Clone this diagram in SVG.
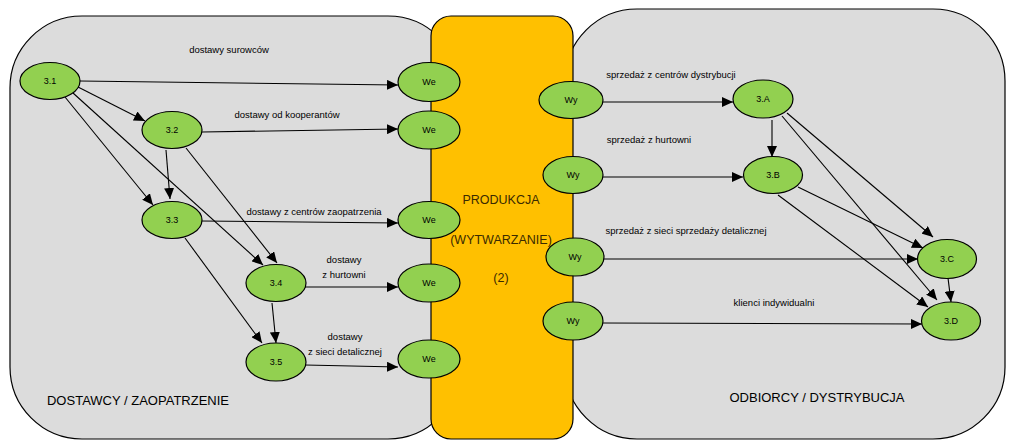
<svg xmlns="http://www.w3.org/2000/svg" width="1009" height="442" viewBox="0 0 1009 442">
<style>
.panel{fill:#dcdcdc;stroke:#000;stroke-width:1.2}
.prod{fill:#ffc000;stroke:#000;stroke-width:1.2}
.node ellipse{fill:#92d050;stroke:#000;stroke-width:1.2}
.node text{font-family:"Liberation Sans",Arial,sans-serif;font-size:9px;fill:#000;text-anchor:middle;dominant-baseline:central}
.lbl{font-family:"Liberation Sans",Arial,sans-serif;font-size:9.5px;fill:#000;text-anchor:middle}
.big{font-family:"Liberation Sans",Arial,sans-serif;font-size:13px;fill:#000;text-anchor:middle}
.prodt{font-family:"Liberation Sans",Arial,sans-serif;font-size:12.5px;fill:#3a2a00;text-anchor:middle}
#connectors line{stroke:#000;stroke-width:1.1;marker-end:url(#ah)}
</style>
<defs>
<marker id="ah" markerUnits="userSpaceOnUse" markerWidth="12" markerHeight="10" refX="11" refY="5" orient="auto">
<path d="M0,0 L11,5 L0,10 Z" fill="#000"/>
</marker>
</defs>
<rect width="1009" height="442" fill="#fff"/>
<g id="panel-left"><rect class="panel" x="10" y="16" width="450" height="423" rx="72" ry="72"/>
<text class="big" x="138" y="405">DOSTAWCY / ZAOPATRZENIE</text></g>
<g id="panel-right"><rect class="panel" x="565" y="9" width="440" height="430" rx="72" ry="72"/>
<text class="big" x="817" y="402">ODBIORCY / DYSTRYBUCJA</text></g>
<g id="panel-prod"><rect class="prod" x="431" y="16" width="142" height="423" rx="20" ry="20"/>
<text class="prodt" x="501" y="204">PRODUKCJA</text>
<text class="prodt" x="501" y="244">(WYTWARZANIE)</text>
<text class="prodt" x="501" y="282">(2)</text></g>

<g id="labels">
<text class="lbl" x="229" y="53">dostawy surowców</text>
<text class="lbl" x="287" y="118">dostawy od kooperantów</text>
<text class="lbl" x="314" y="215">dostawy z centrów zaopatrzenia</text>
<text class="lbl" x="344" y="263">dostawy</text>
<text class="lbl" x="344" y="278">z hurtowni</text>
<text class="lbl" x="345" y="340">dostawy</text>
<text class="lbl" x="345" y="355">z sieci detalicznej</text>
<text class="lbl" x="671" y="78" >sprzedaż z centrów dystrybucji</text>
<text class="lbl" x="649" y="143">sprzedaż z hurtowni</text>
<text class="lbl" x="686" y="234">sprzedaż z sieci sprzedaży detalicznej</text>
<text class="lbl" x="774" y="306">klienci  indywidualni</text>
</g>

<g id="connectors">
<line x1="80" y1="81" x2="398" y2="85"/>
<line x1="78" y1="87" x2="145" y2="121"/>
<line x1="65" y1="97" x2="153" y2="205"/>
<line x1="73" y1="93" x2="263" y2="265"/>
<line x1="202" y1="132" x2="398" y2="129"/>
<line x1="166" y1="150" x2="170" y2="199"/>
<line x1="186" y1="148" x2="277" y2="263"/>
<line x1="201" y1="221" x2="398" y2="223"/>
<line x1="185" y1="238" x2="262" y2="343"/>
<line x1="305" y1="287" x2="398" y2="287"/>
<line x1="272" y1="303" x2="276" y2="343"/>
<line x1="305" y1="365" x2="398" y2="367"/>
<line x1="603" y1="102" x2="733" y2="102"/>
<line x1="603" y1="177" x2="743" y2="177"/>
<line x1="772" y1="120" x2="772" y2="157"/>
<line x1="787" y1="113" x2="933" y2="237"/>
<line x1="782" y1="116" x2="937" y2="300"/>
<line x1="798" y1="187" x2="923" y2="248"/>
<line x1="778" y1="195" x2="928" y2="307"/>
<line x1="603" y1="259" x2="918" y2="259"/>
<line x1="948" y1="278" x2="951" y2="302"/>
<line x1="603" y1="323" x2="922" y2="324"/>
</g>

<g id="n31" class="node"><ellipse cx="50" cy="81" rx="30" ry="18.5"/><text x="50" y="81">3.1</text></g>
<g id="n32" class="node"><ellipse cx="172" cy="130" rx="30" ry="18.5"/><text x="172" y="130">3.2</text></g>
<g id="n33" class="node"><ellipse cx="172" cy="220" rx="30" ry="18.5"/><text x="172" y="220">3.3</text></g>
<g id="n34" class="node"><ellipse cx="276" cy="283" rx="30" ry="18.5"/><text x="276" y="283">3.4</text></g>
<g id="n35" class="node"><ellipse cx="276" cy="362" rx="30" ry="19"/><text x="276" y="362">3.5</text></g>
<g id="we1" class="node"><ellipse cx="429" cy="82" rx="31" ry="19.5"/><text x="429" y="82">We</text></g>
<g id="we2" class="node"><ellipse cx="429" cy="130" rx="31" ry="19"/><text x="429" y="130">We</text></g>
<g id="we3" class="node"><ellipse cx="429" cy="220" rx="31" ry="18.5"/><text x="429" y="220">We</text></g>
<g id="we4" class="node"><ellipse cx="429" cy="283" rx="31" ry="19"/><text x="429" y="283">We</text></g>
<g id="we5" class="node"><ellipse cx="429" cy="359" rx="31" ry="19"/><text x="429" y="359">We</text></g>
<g id="wy1" class="node"><ellipse cx="571" cy="100" rx="32" ry="18.5"/><text x="571" y="100">Wy</text></g>
<g id="wy2" class="node"><ellipse cx="573" cy="175" rx="30" ry="18.5"/><text x="573" y="175">Wy</text></g>
<g id="wy3" class="node"><ellipse cx="575" cy="257" rx="29" ry="19"/><text x="575" y="257">Wy</text></g>
<g id="wy4" class="node"><ellipse cx="573" cy="321" rx="30" ry="19"/><text x="573" y="321">Wy</text></g>
<g id="n3A" class="node"><ellipse cx="763" cy="99" rx="30" ry="19"/><text x="763" y="99">3.A</text></g>
<g id="n3B" class="node"><ellipse cx="773" cy="175" rx="29.5" ry="18.5"/><text x="773" y="175">3.B</text></g>
<g id="n3C" class="node"><ellipse cx="947" cy="259" rx="29.5" ry="19.5"/><text x="947" y="259">3.C</text></g>
<g id="n3D" class="node"><ellipse cx="951" cy="321" rx="29.5" ry="19"/><text x="951" y="321">3.D</text></g>
</svg>
